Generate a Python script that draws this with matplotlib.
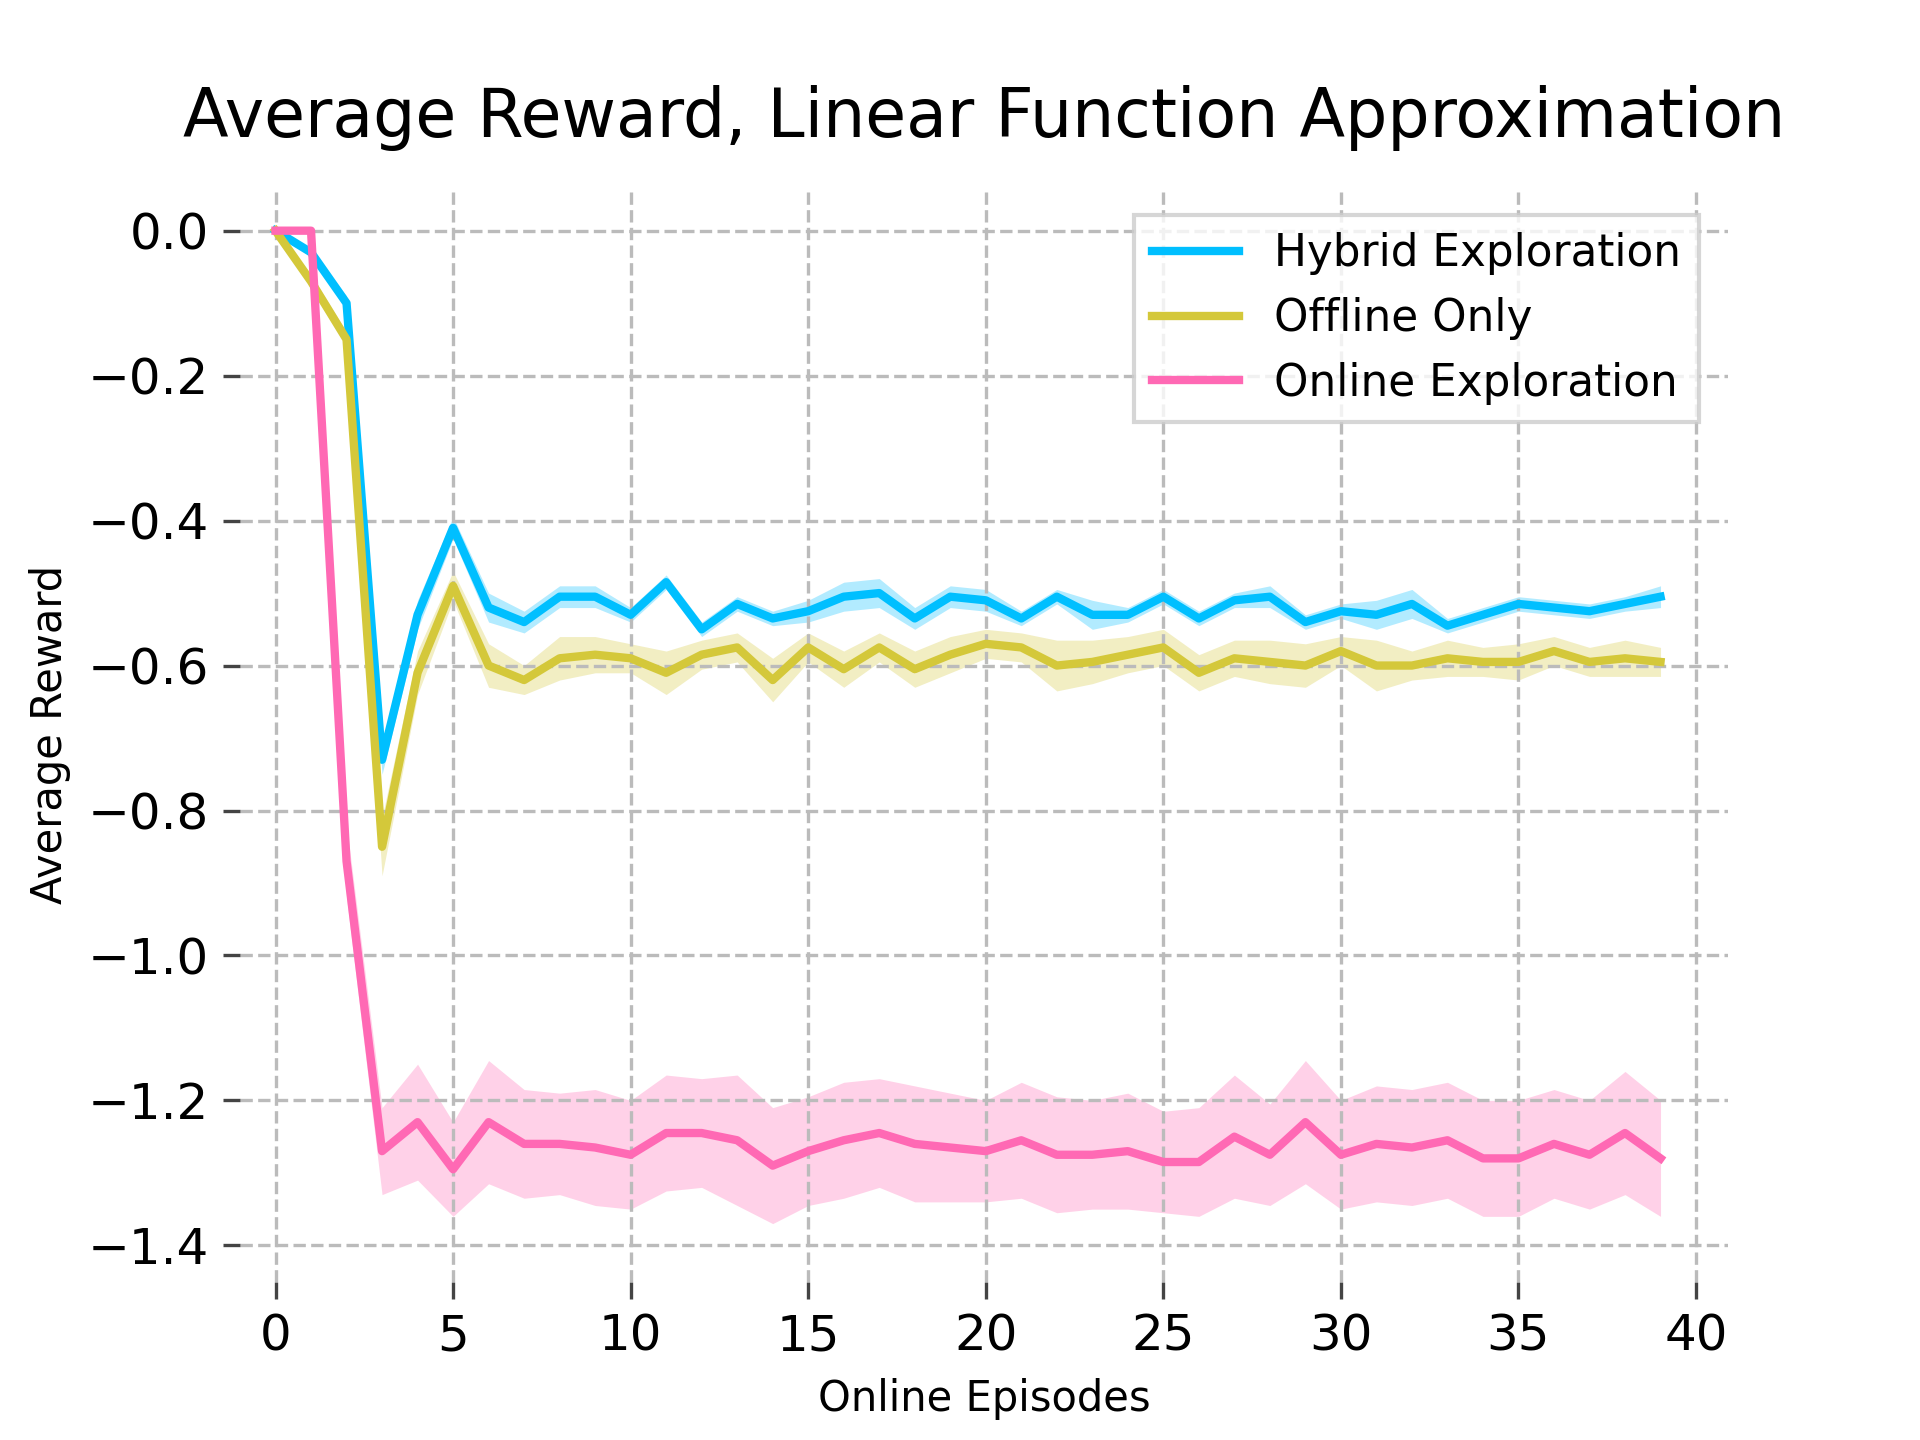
import matplotlib
matplotlib.use("Agg")
import matplotlib.pyplot as plt
import numpy as np

episodes = list(range(40))
hybrid = [0, -0.03, -0.10, -0.73, -0.53, -0.41, -0.52, -0.54, -0.505, -0.505, -0.53, -0.485, -0.55, -0.515, -0.535,
          -0.525, -0.505, -0.50, -0.535, -0.505, -0.51, -0.535, -0.505, -0.53, -0.53, -0.505, -0.535, -0.51, -0.505,
          -0.54, -0.525, -0.53, -0.515, -0.545, -0.53, -0.515, -0.52, -0.525, -0.515, -0.505]
hybrid_err = [0, 0.005, 0.01, 0.02, 0.02, 0.015, 0.02, 0.015, 0.015, 0.015, 0.01, 0.01, 0.01, 0.01, 0.01,
              0.015, 0.02, 0.02, 0.015, 0.015, 0.015, 0.01, 0.01, 0.02, 0.01, 0.01, 0.01, 0.01, 0.015,
              0.01, 0.01, 0.02, 0.02, 0.01, 0.01, 0.01, 0.01, 0.01, 0.01, 0.015]
offline = [0, -0.07, -0.15, -0.85, -0.61, -0.49, -0.60, -0.62, -0.59, -0.585, -0.59, -0.61, -0.585, -0.575, -0.62,
           -0.575, -0.605, -0.575, -0.605, -0.585, -0.57, -0.575, -0.60, -0.595, -0.585, -0.575, -0.61, -0.59, -0.595,
           -0.60, -0.58, -0.60, -0.60, -0.59, -0.595, -0.595, -0.58, -0.595, -0.59, -0.595]
offline_err = [0, 0.01, 0.01, 0.04, 0.03, 0.02, 0.03, 0.02, 0.03, 0.025, 0.02, 0.03, 0.02, 0.02, 0.03,
               0.02, 0.025, 0.02, 0.025, 0.025, 0.02, 0.02, 0.035, 0.03, 0.025, 0.025, 0.025, 0.025, 0.03,
               0.03, 0.02, 0.035, 0.02, 0.025, 0.02, 0.025, 0.02, 0.02, 0.025, 0.02]
online = [0, 0, -0.87, -1.27, -1.23, -1.295, -1.23, -1.26, -1.26, -1.265, -1.275, -1.245, -1.245, -1.255, -1.29,
          -1.27, -1.255, -1.245, -1.26, -1.265, -1.27, -1.255, -1.275, -1.275, -1.27, -1.285, -1.285, -1.25, -1.275,
          -1.23, -1.275, -1.26, -1.265, -1.255, -1.28, -1.28, -1.26, -1.275, -1.245, -1.28]
online_err = [0, 0, 0.05, 0.06, 0.08, 0.065, 0.085, 0.075, 0.07, 0.08, 0.075, 0.08, 0.075, 0.09, 0.08,
              0.075, 0.08, 0.075, 0.08, 0.075, 0.07, 0.08, 0.08, 0.075, 0.08, 0.07, 0.075, 0.085, 0.07,
              0.085, 0.075, 0.08, 0.08, 0.08, 0.08, 0.08, 0.075, 0.075, 0.085, 0.08]

series = [("Hybrid Exploration", hybrid, hybrid_err, "#00BFFF"),
          ("Offline Only", offline, offline_err, "#D4C83A"),
          ("Online Exploration", online, online_err, "#FF69B4")]

fig, ax = plt.subplots(figsize=(6.4, 4.8), dpi=300)
x = np.array(episodes)
for name, m, e, c in series:
    m = np.array(m); e = np.array(e)
    ax.fill_between(x, m - e, m + e, color=c, alpha=0.3, linewidth=0)
    ax.plot(x, m, color=c, linewidth=2, label=name)

for s in ax.spines.values():
    s.set_visible(False)
ax.grid(True, linestyle="--", color="#bbbbbb", linewidth=0.8)
ax.set_xticks(range(0, 41, 5))
ax.set_yticks(np.arange(-1.4, 0.01, 0.2))
ax.tick_params(labelsize=12, length=4, color="#444444")
ax.set_xlim(-1.0, 40.9)
ax.set_ylim(-1.45, 0.06)
ax.set_xlabel("Online Episodes", fontsize=10)
ax.set_ylabel("Average Reward", fontsize=10)
ax.set_title("Average Reward, Linear Function Approximation", fontsize=16, pad=12)
ax.legend(loc="upper right", fontsize=10.5, fancybox=False, bbox_to_anchor=(0.995, 0.995))
fig.subplots_adjust(left=0.125, right=0.9, top=0.87, bottom=0.11)
fig.savefig("out.png", dpi=300)
